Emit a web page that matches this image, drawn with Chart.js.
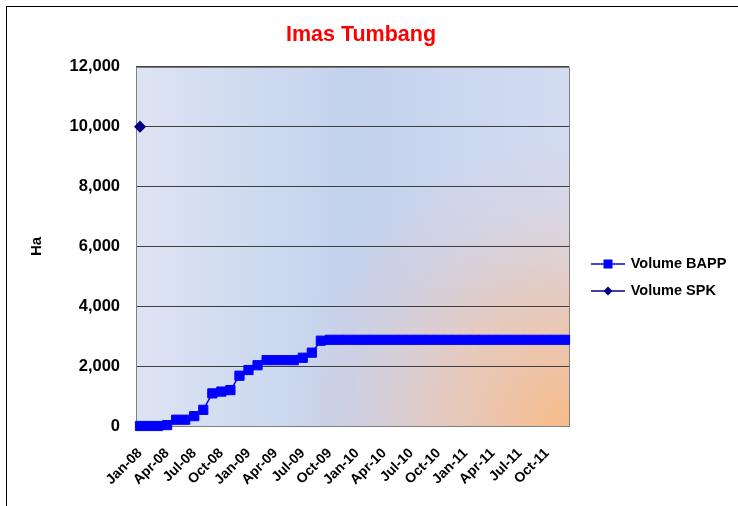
<!DOCTYPE html>
<html>
<head>
<meta charset="utf-8">
<script src="https://cdn.jsdelivr.net/npm/chart.js@4.4.1/dist/chart.umd.min.js"></script>
<style>
  html, body { margin: 0; padding: 0; background: #fff; }
  #wrap { width: 738px; height: 506px; }
</style>
</head>
<body>
<div id="wrap"><canvas id="chart" width="738" height="506"></canvas></div>
<script>
// monthly categories, Jan-08 .. Dec-11
var months = ['Jan-08', 'Feb-08', 'Mar-08', 'Apr-08', 'May-08', 'Jun-08', 'Jul-08', 'Aug-08', 'Sep-08', 'Oct-08', 'Nov-08', 'Dec-08',
  'Jan-09', 'Feb-09', 'Mar-09', 'Apr-09', 'May-09', 'Jun-09', 'Jul-09', 'Aug-09', 'Sep-09', 'Oct-09', 'Nov-09', 'Dec-09',
  'Jan-10', 'Feb-10', 'Mar-10', 'Apr-10', 'May-10', 'Jun-10', 'Jul-10', 'Aug-10', 'Sep-10', 'Oct-10', 'Nov-10', 'Dec-10',
  'Jan-11', 'Feb-11', 'Mar-11', 'Apr-11', 'May-11', 'Jun-11', 'Jul-11', 'Aug-11', 'Sep-11', 'Oct-11', 'Nov-11', 'Dec-11'];

// months that carry a tick label
var tickMonths = [0, 3, 6, 9, 12, 15, 18, 21, 24, 27, 30, 33, 36, 39, 42, 45];

var volumeBAPP = [0, 0, 0, 30, 210, 210, 330, 540, 1090, 1150, 1200, 1680,
  1870, 2030, 2200, 2200, 2200, 2200, 2280, 2450, 2850, 2880, 2880, 2880,
  2880, 2880, 2880, 2880, 2880, 2880, 2880, 2880, 2880, 2880, 2880, 2880,
  2880, 2880, 2880, 2880, 2880, 2880, 2880, 2880, 2880, 2880, 2880, 2880];

var volumeSPK = [10000];

var yTicks = [0, 2000, 4000, 6000, 8000, 10000, 12000];

var BLUE = '#0000FF';
var NAVY = '#000080';

function legendIcon(color, kind) {
  var c = document.createElement('canvas');
  c.width = 34; c.height = 12;
  var g = c.getContext('2d');
  g.strokeStyle = color; g.lineWidth = 1.5;
  g.beginPath(); g.moveTo(0, 6); g.lineTo(34, 6); g.stroke();
  g.fillStyle = color;
  if (kind == 'square') {
    g.fillRect(12.5, 1.5, 9, 9);
  } else {
    g.beginPath(); g.moveTo(17, 1.5); g.lineTo(21.5, 6); g.lineTo(17, 10.5); g.lineTo(12.5, 6); g.closePath(); g.fill();
  }
  return c;
}
var icons = [legendIcon(BLUE, 'square'), legendIcon(NAVY, 'diamond')];

var plotBackground = {
  id: 'plotBackground',
  afterLayout: function(chart) {
    // keep the title centred where the original had it
    chart.titleBlock.left = 6;
    chart.titleBlock.right = 716;
  },
  beforeDraw: function(chart) {
    var ctx = chart.ctx, a = chart.chartArea;
    ctx.save();
    ctx.fillStyle = '#fff';
    ctx.fillRect(0, 0, chart.width, chart.height);
    ctx.strokeStyle = '#000';
    ctx.lineWidth = 1;
    ctx.strokeRect(6.5, 6.5, chart.width + 20, chart.height + 20);

    var lin = ctx.createLinearGradient(a.left, 0, a.right, 0);
    lin.addColorStop(0, '#dde4f3');
    lin.addColorStop(0.5, '#c3d2ed');
    lin.addColorStop(1, '#d3dcf1');
    ctx.fillStyle = lin;
    ctx.fillRect(a.left, a.top, a.right - a.left, a.bottom - a.top);

    var rad = ctx.createRadialGradient(a.right, a.bottom, 0, a.right, a.bottom, 290);
    rad.addColorStop(0, 'rgba(248,187,135,1)');
    rad.addColorStop(0.45, 'rgba(238,196,172,0.7)');
    rad.addColorStop(1, 'rgba(220,205,220,0)');
    ctx.fillStyle = rad;
    ctx.fillRect(a.left, a.top, a.right - a.left, a.bottom - a.top);
    ctx.restore();
  },
  beforeDatasetsDraw: function(chart) {
    var ctx = chart.ctx, a = chart.chartArea;
    ctx.save();
    ctx.strokeStyle = '#7f7f7f';
    ctx.lineWidth = 1;
    ctx.strokeRect(Math.round(a.left) + 0.5, Math.round(a.top) + 0.5, Math.round(a.right - a.left), Math.round(a.bottom - a.top));
    ctx.restore();
  }
};

new Chart(document.getElementById('chart').getContext('2d'), {
  type: 'line',
  data: {
    datasets: [{
      label: 'Volume BAPP',
      data: volumeBAPP.map(function(v, i) { return {x: i, y: v}; }),
      borderColor: BLUE,
      backgroundColor: BLUE,
      borderWidth: 1.5,
      pointStyle: 'rect',
      pointRadius: 6.5,
      pointBorderWidth: 1,
      clip: false
    }, {
      label: 'Volume SPK',
      data: volumeSPK.map(function(v, i) { return {x: i, y: v}; }),
      borderColor: NAVY,
      backgroundColor: NAVY,
      borderWidth: 1.5,
      pointStyle: 'rectRot',
      pointRadius: 5,
      clip: false
    }]
  },
  options: {
    responsive: false,
    animation: false,
    layout: { padding: { top: 22, left: 6, right: 6, bottom: 0 } },
    plugins: {
      title: {
        display: true,
        text: 'Imas Tumbang',
        color: '#FF0000',
        font: { family: 'Arial, "Liberation Sans"', size: 21.5, weight: 'bold' },
        padding: { top: 0, bottom: 19 }
      },
      legend: {
        position: 'right',
        maxWidth: 152,
        title: { display: true, text: '', font: { size: 12 }, padding: { top: 12.5, bottom: 0 } },
        labels: {
          usePointStyle: true,
          pointStyleWidth: 31,
          padding: 12.5,
          color: '#000',
          font: { family: 'Arial, "Liberation Sans"', size: 14.5, weight: 'bold' },
          generateLabels: function(chart) {
            var items = Chart.defaults.plugins.legend.labels.generateLabels(chart);
            items.forEach(function(it, i) { it.pointStyle = icons[i]; });
            return items;
          }
        }
      },
      tooltip: { enabled: false }
    },
    scales: {
      x: {
        type: 'linear',
        min: -0.44,
        max: 47.44,
        grid: { display: false },
        border: { display: false },
        afterBuildTicks: function(scale) {
          scale.ticks = tickMonths.map(function(m) { return {value: m}; });
        },
        afterFit: function(scale) { scale.height = 80; },
        ticks: {
          autoSkip: false,
          minRotation: 45,
          maxRotation: 45,
          padding: 11,
          color: '#000',
          font: { family: 'Arial, "Liberation Sans"', size: 14, weight: 'bold' },
          callback: function(v) { return months[v]; }
        }
      },
      y: {
        min: 0,
        max: 12000,
        afterBuildTicks: function(scale) {
          scale.ticks = yTicks.map(function(v) { return {value: v}; });
        },
        afterFit: function(scale) { scale.width = 130; },
        grid: { color: '#3f3f3f', lineWidth: 1, drawTicks: false },
        border: { display: false },
        title: {
          display: true,
          text: 'Ha',
          color: '#000',
          font: { family: 'Arial, "Liberation Sans"', size: 15, weight: 'bold' },
          padding: { top: 22, bottom: 0 }
        },
        ticks: {
          padding: 16,
          color: '#000',
          font: { family: 'Arial, "Liberation Sans"', size: 16.5, weight: 'bold' },
          callback: function(v) { return v.toLocaleString('en-US'); }
        }
      },
      gap: {
        type: 'linear',
        position: 'right',
        display: true,
        grid: { display: false },
        border: { display: false },
        ticks: { display: false },
        afterFit: function(scale) { scale.width = 11; }
      }
    }
  },
  plugins: [plotBackground]
});
</script>
</body>
</html>
